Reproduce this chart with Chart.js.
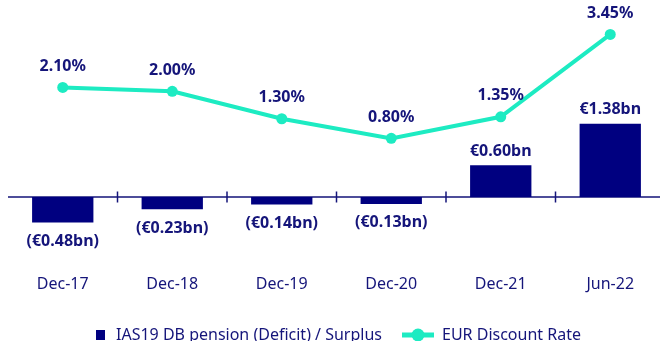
<!DOCTYPE html>
<html>
<head>
<meta charset="utf-8">
<script src="https://cdn.jsdelivr.net/npm/chart.js@4"></script>
<style>
  html, body { margin: 0; padding: 0; background: #fff; overflow: hidden; }
  #wrap { width: 680px; height: 341px; }
</style>
</head>
<body>
<div id="wrap"><canvas id="pension" width="680" height="341"></canvas></div>
<script>
/* DB pension position vs EUR discount rate */
const periods = ['Dec-17', 'Dec-18', 'Dec-19', 'Dec-20', 'Dec-21', 'Jun-22'];
const pensionBn = [-0.48, -0.23, -0.14, -0.13, 0.60, 1.38];
const discountRate = [2.10, 2.00, 1.30, 0.80, 1.35, 3.45];
const seriesNames = ['IAS19 DB pension (Deficit) / Surplus', 'EUR Discount Rate'];

const NAVY = '#000080';
const INK = '#15157a';
const MINT = '#1debc2';
const FONT = "'Noto Sans', 'Open Sans', sans-serif";

// legend swatches: small square for the bars, line + dot for the rate
function barSwatch() {
  const c = document.createElement('canvas');
  c.width = 32; c.height = 10;
  const g = c.getContext('2d');
  g.fillStyle = NAVY;
  g.fillRect(20, 0, 9, 10);
  return c;
}
function lineSwatch() {
  const c = document.createElement('canvas');
  c.width = 32; c.height = 14;
  const g = c.getContext('2d');
  g.strokeStyle = MINT; g.lineWidth = 5;
  g.beginPath(); g.moveTo(0, 7); g.lineTo(32, 7); g.stroke();
  g.fillStyle = MINT;
  g.beginPath(); g.arc(16, 7, 6.5, 0, Math.PI * 2); g.fill();
  return c;
}

// zero line with small separators between periods
const zeroAxis = {
  id: 'zeroAxis',
  beforeDatasetsDraw(chart) {
    const {ctx, chartArea, scales: {x, y}} = chart;
    const y0 = y.getPixelForValue(0);
    ctx.save();
    ctx.strokeStyle = INK;
    ctx.lineWidth = 1.5;
    ctx.beginPath();
    ctx.moveTo(chartArea.left, y0);
    ctx.lineTo(chartArea.right, y0);
    for (let i = 0; i < periods.length - 1; i++) {
      const bx = (x.getPixelForTick(i) + x.getPixelForTick(i + 1)) / 2;
      ctx.moveTo(bx, y0 - 5.5);
      ctx.lineTo(bx, y0 + 5.5);
    }
    ctx.stroke();
    ctx.restore();
  }
};

// value labels above/below bars and above rate points
const valueLabels = {
  id: 'valueLabels',
  afterDatasetsDraw(chart) {
    const {ctx} = chart;
    ctx.save();
    ctx.font = `bold 16px ${FONT}`;
    ctx.fillStyle = INK;
    ctx.textAlign = 'center';
    ctx.textBaseline = 'middle';
    chart.getDatasetMeta(0).data.forEach((bar, i) => {
      const v = pensionBn[i];
      const txt = v < 0 ? `(€${(-v).toFixed(2)}bn)` : `€${v.toFixed(2)}bn`;
      ctx.fillText(txt, bar.x, v < 0 ? bar.y + 19 : bar.y - 14);
    });
    chart.getDatasetMeta(1).data.forEach((pt, i) => {
      ctx.fillText(discountRate[i].toFixed(2) + '%', pt.x, pt.y - 21);
    });
    ctx.restore();
  }
};

// nudge the legend row right and down
const legendPlace = {
  id: 'legendPlace',
  afterLayout(chart) {
    const lg = chart.legend;
    const pad = lg.options.labels.padding;
    const h = lg.height;
    lg.left = 76 - pad;
    lg.top = 335 - pad - 8;
    lg.bottom = lg.top + h;
  }
};

new Chart(document.getElementById('pension'), {
  data: {
    labels: periods,
    datasets: [
      {
        type: 'bar',
        label: seriesNames[0],
        data: pensionBn,
        backgroundColor: NAVY,
        yAxisID: 'y',
        barPercentage: 0.56,
        categoryPercentage: 1
      },
      {
        type: 'line',
        label: seriesNames[1],
        data: discountRate,
        borderColor: MINT,
        backgroundColor: MINT,
        borderWidth: 4,
        pointRadius: 5.5,
        pointBackgroundColor: MINT,
        pointBorderWidth: 0,
        tension: 0,
        yAxisID: 'y1'
      }
    ]
  },
  options: {
    responsive: false,
    animation: false,
    layout: { padding: { left: 8, right: 15, top: 0, bottom: 0 } },
    plugins: {
      legend: {
        position: 'bottom',
        align: 'start',
        labels: {
          font: { size: 16, family: FONT },
          color: INK,
          usePointStyle: true,
          pointStyleWidth: 32,
          padding: 20,
          generateLabels(chart) {
            const items = Chart.defaults.plugins.legend.labels.generateLabels(chart);
            items[0].pointStyle = barSwatch();
            items[1].pointStyle = lineSwatch();
            return items;
          }
        }
      },
      tooltip: { enabled: false }
    },
    scales: {
      x: {
        grid: { display: false, drawTicks: false },
        border: { display: false },
        ticks: { font: { size: 16, family: FONT }, color: INK, padding: 1.4 }
      },
      y: { display: false, min: -1.434, max: 3.613 },
      y1: { display: false, position: 'right', min: -2.635, max: 4.189 }
    }
  },
  plugins: [zeroAxis, valueLabels, legendPlace]
});
</script>
</body>
</html>
